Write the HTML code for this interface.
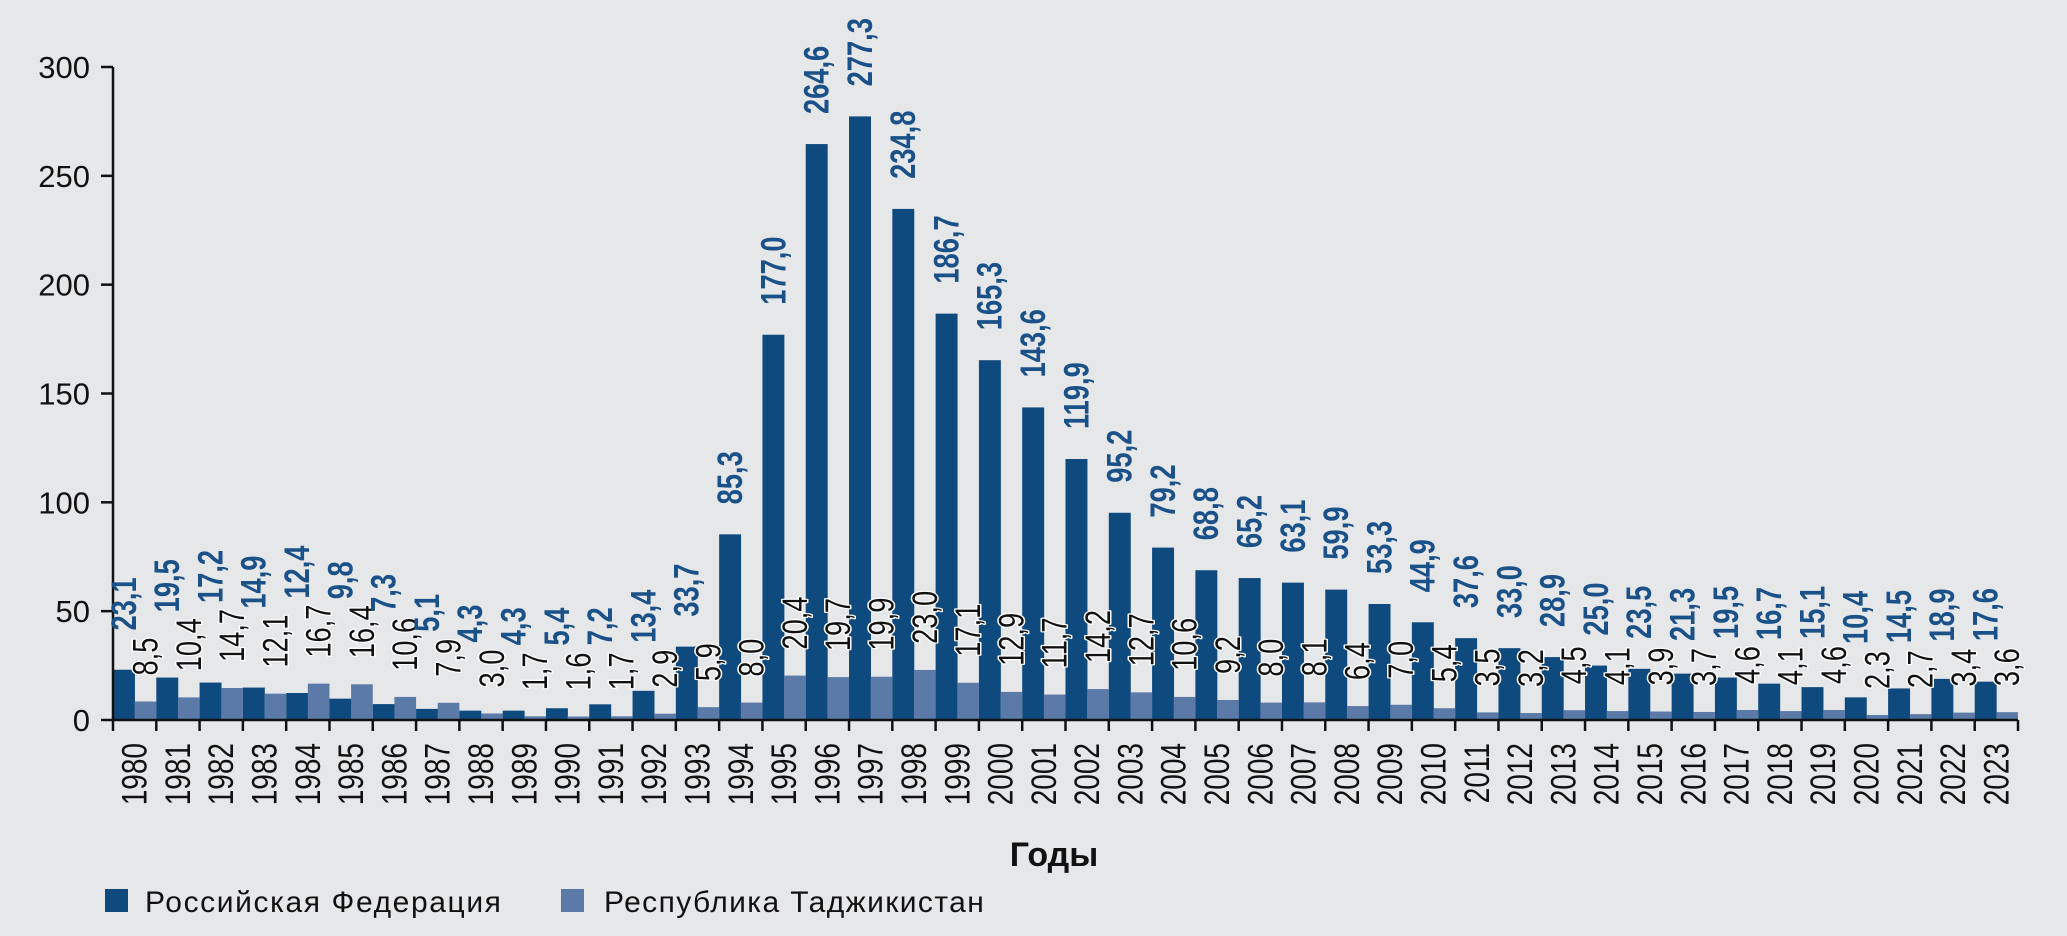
<!DOCTYPE html>
<html><head><meta charset="utf-8"><style>
html,body{margin:0;padding:0;background:#e6e7e9;}
svg{display:block;}
.n{font-family:"Liberation Sans Narrow","Liberation Sans",sans-serif;}
</style></head><body>
<svg id="c" width="2067" height="936" xmlns="http://www.w3.org/2000/svg">
<rect width="2067" height="936" fill="#e6e7e9"/>
<g id="g"></g>
<text x="1054" y="866" text-anchor="middle" class="n" font-weight="bold" font-size="34" fill="#111">Годы</text>
<rect x="105" y="889" width="23" height="23" fill="#0f4a7e"/>
<text x="145" y="912" font-family="Liberation Sans,sans-serif" font-size="30" fill="#111" letter-spacing="1.6">Российская Федерация</text>
<rect x="561" y="889" width="23" height="23" fill="#5b7aa8"/>
<text x="604" y="912" font-family="Liberation Sans,sans-serif" font-size="30" fill="#111" letter-spacing="1.4">Республика Таджикистан</text>
</svg>
<script>
var rf=[23.1,19.5,17.2,14.9,12.4,9.8,7.3,5.1,4.3,4.3,5.4,7.2,13.4,33.7,85.3,177.0,264.6,277.3,234.8,186.7,165.3,143.6,119.9,95.2,79.2,68.8,65.2,63.1,59.9,53.3,44.9,37.6,33.0,28.9,25.0,23.5,21.3,19.5,16.7,15.1,10.4,14.5,18.9,17.6];
var tj=[8.5,10.4,14.7,12.1,16.7,16.4,10.6,7.9,3.0,1.7,1.6,1.7,2.9,5.9,8.0,20.4,19.7,19.9,23.0,17.1,12.9,11.7,14.2,12.7,10.6,9.2,8.0,8.1,6.4,7.0,5.4,3.5,3.2,4.5,4.1,3.9,3.7,4.6,4.1,4.6,2.3,2.7,3.4,3.6];
var X0=113,X1=2018,Y0=720,K=653/300,n=44,W=(X1-X0)/n,s='';
function f(v){return v.toFixed(1).replace('.',',');}
for(var v=0;v<=300;v+=50){var y=Y0-v*K;s+='<line x1="101" x2="'+X0+'" y1="'+y+'" y2="'+y+'" stroke="#111" stroke-width="2.5"/>';
s+='<text x="90" y="'+(y+11)+'" text-anchor="end" font-family="Liberation Sans,sans-serif" font-size="31" fill="#111">'+v+'</text>';}
for(var i=0;i<n;i++){var x=X0+i*W,h1=rf[i]*K,h2=tj[i]*K;
s+='<rect x="'+x+'" y="'+(Y0-h1)+'" width="'+(W/2+0.3)+'" height="'+h1+'" fill="#0f4a7e"/>';
s+='<rect x="'+(x+W/2)+'" y="'+(Y0-h2)+'" width="'+(W/2)+'" height="'+h2+'" fill="#5b7aa8"/>';}
s+='<line x1="'+X0+'" x2="'+X0+'" y1="'+(Y0-300*K)+'" y2="'+Y0+'" stroke="#111" stroke-width="2.5"/>';
s+='<line x1="'+X0+'" x2="'+X1+'" y1="'+Y0+'" y2="'+Y0+'" stroke="#111" stroke-width="2.5"/>';
for(var i=0;i<=n;i++){var x=X0+i*W;s+='<line x1="'+x+'" x2="'+x+'" y1="'+Y0+'" y2="'+(Y0+11)+'" stroke="#111" stroke-width="2.5"/>';}
for(var i=0;i<n;i++){var x=X0+i*W,cx=x+W/2,c1=x+W/4,c2=x+3*W/4;
s+='<text transform="translate('+(cx+12)+',743) rotate(-90) scale(0.8,1)" text-anchor="end" class="n" font-size="35" fill="#111">'+(1980+i)+'</text>';
var t=f(tj[i]),tb=Y0-tj[i]*K-26,len=(t.length-1)*14+7;
s+='<text transform="translate('+(c2+12)+','+tb+') rotate(-90) scale(0.78,1)" class="n" font-size="35" fill="#111" stroke="#fff" stroke-width="3" paint-order="stroke" stroke-linejoin="round">'+t+'</text>';
var r=f(rf[i]),rb=Math.min(Y0-rf[i]*K-30,tb-len-10);
s+='<text transform="translate('+(c1+12)+','+rb+') rotate(-90) scale(0.78,1)" class="n" font-weight="bold" font-size="35" fill="#1a5189">'+r+'</text>';}
document.getElementById('g').innerHTML=s;
</script>
</body></html>
